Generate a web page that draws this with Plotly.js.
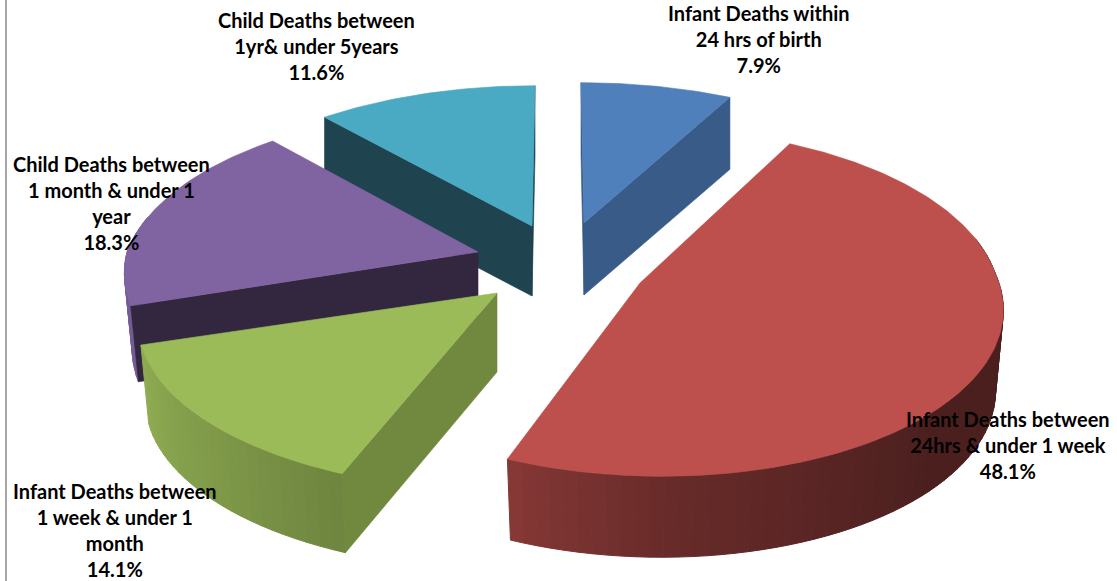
<!DOCTYPE html>
<html>
<head>
<meta charset="utf-8">
<script src="https://cdn.plot.ly/plotly-3.0.1.min.js"></script>
<style>html,body{margin:0;padding:0;background:#fff}#chart{width:1117px;height:581px}</style>
</head>
<body>
<div id="chart"></div>
<script>
// Share of child deaths by age at death, drawn as an exploded 3D pie.
const labelLines = [
  ['Infant Deaths within', '24 hrs of birth'],
  ['Infant Deaths between', '24hrs & under 1 week'],
  ['Infant Deaths between', '1 week & under 1', 'month'],
  ['Child Deaths between', '1 month & under 1', 'year'],
  ['Child Deaths between', '1yr& under 5years']
];
const shares = [7.9, 48.1, 14.1, 18.3, 11.6];

// Slice colours
const topColors = ['#4f80bb', '#bd4f4c', '#9bbb59', '#8064a2', '#4aa9c3'];
const faceColors = ['#385b87', '#4a1e1e', '#71893f', '#33263f', '#1f444f'];

// Explosion of each slice away from the common centre, and wall height
const centre = [556, 256];
const explodeX = [25, 90, -59, -75, -21];
const explodeY = [-33, 16, 37, -4, -30];
const wallDepth = [72, 81, 79, 76, 70];

// Per-slice adjustments of the projected disc
const widthScale = [1.02, 0.985, 1, 1, 1.01];
const depthScale = [1, 1.02, 0.985, 1.02, 1];
const frontShear = [0, 16, 1, 20, 0];
const tipShiftX = [3, -6, 0, -3, -3];
const tipShiftY = [0, 11, 0, 0, 0];

// Label placement
const labelX = [759, 1008, 115, 111, 316];
const labelY = [39, 445, 530, 203, 46];

// Tilted-disc projection; the lower edge of a front wall is slightly narrower
const radiusX = 354, radiusY = 165, perspective = 0.176, frontNarrowing = 0.022;

// Wall brightness as a function of the angle round the pie
const shadeAngles = [0, 135, 180, 201.6, 225, 252, 360];
const shadeFactors = [0.39, 0.39, 0.55, 0.71, 0.82, 0.92, 0.95];

function rimPoint(deg, i) {
  const r = deg * Math.PI / 180, u = Math.sin(r), v = -Math.cos(r);
  const s = 1 / (1 - perspective * v);
  const x = radiusX * u * s * widthScale[i] + frontShear[i] * Math.max(v, 0);
  const front = Math.min(1, Math.max(0, (v + 0.3) / 0.4));
  return {x: x, lowerX: x * (1 - frontNarrowing * front), y: radiusY * v * s * depthScale[i], v: v};
}
function shadeAt(deg) {
  for (let i = 1; i < shadeAngles.length; i++) {
    if (deg <= shadeAngles[i]) {
      const t = (deg - shadeAngles[i - 1]) / (shadeAngles[i] - shadeAngles[i - 1]);
      return shadeFactors[i - 1] + t * (shadeFactors[i] - shadeFactors[i - 1]);
    }
  }
  return shadeFactors[shadeFactors.length - 1];
}
function scaled(hex, f) {
  const n = parseInt(hex.slice(1), 16);
  return 'rgb(' + [(n >> 16) & 255, (n >> 8) & 255, n & 255].map(c => Math.round(c * f)).join(',') + ')';
}
function poly(xs, ys, color, width) {
  return {
    type: 'scatter', mode: 'lines', x: xs, y: ys, fill: 'toself', fillcolor: color,
    line: {color: color, width: width}, hoverinfo: 'skip', showlegend: false
  };
}

// Cumulative angles come straight from the shares
const total = shares.reduce((a, b) => a + b, 0);
const startAngle = [], endAngle = [];
shares.reduce((acc, v, i) => {
  startAngle[i] = acc / total * 360;
  endAngle[i] = (acc + v) / total * 360;
  return acc + v;
}, 0);

function sliceTraces(i) {
  const out = [];
  const cx = centre[0] + explodeX[i], cy = centre[1] + explodeY[i];
  const ax = cx + tipShiftX[i], ay = cy + tipShiftY[i];
  const d = wallDepth[i], a0 = startAngle[i], a1 = endAngle[i];
  const mid = rimPoint((a0 + a1) / 2, i);
  const mx = cx + mid.x - ax, my = cy + mid.y - ay;

  // Curved outer wall, in narrow shaded bands
  const base = topColors[i], step = 2;
  const n = Math.max(1, Math.round((a1 - a0) / step));
  for (let k = 0; k < n; k++) {
    const b0 = a0 + (a1 - a0) * k / n, b1 = a0 + (a1 - a0) * (k + 1) / n;
    const p0 = rimPoint(b0, i), p1 = rimPoint(b1, i);
    if (Math.max(p0.v, p1.v) < -0.2) continue;
    out.push(poly(
      [cx + p0.x, cx + p1.x, cx + p1.lowerX, cx + p0.lowerX, cx + p0.x],
      [cy + p0.y, cy + p1.y, cy + p1.y + d, cy + p0.y + d, cy + p0.y],
      scaled(base, shadeAt((b0 + b1) / 2)), 1
    ));
  }

  // Straight cut walls, only those that face the viewer
  [a0, a1].forEach(a => {
    const p = rimPoint(a, i);
    const ex = cx + p.x - ax, ey = cy + p.y - ay;
    if (ex * (ex * my - ey * mx) < 0) {
      out.push(poly(
        [ax, cx + p.x, cx + p.lowerX, ax, ax],
        [ay, cy + p.y, cy + p.y + d, ay + d, ay],
        faceColors[i], 0.6
      ));
    }
  });

  // Top face
  const xs = [ax], ys = [ay];
  const m = Math.max(2, Math.round(a1 - a0));
  for (let k = 0; k <= m; k++) {
    const p = rimPoint(a0 + (a1 - a0) * k / m, i);
    xs.push(cx + p.x); ys.push(cy + p.y);
  }
  xs.push(ax); ys.push(ay);
  out.push(poly(xs, ys, topColors[i], 0.6));
  return out;
}

// Paint from the back of the pie to the front
const paintOrder = [4, 3, 2, 0, 1];
const traces = [];
paintOrder.forEach(i => traces.push(...sliceTraces(i)));

const annotations = shares.map((v, i) => ({
  x: labelX[i], y: labelY[i], xref: 'x', yref: 'y', showarrow: false,
  xanchor: 'center', yanchor: 'middle', align: 'center',
  text: labelLines[i].concat(v.toFixed(1) + '%').join('<br>'),
  font: {family: 'Lato, "Open Sans", sans-serif', size: 20, color: '#000', weight: 700}
}));

const layout = {
  width: 1117, height: 581,
  margin: {l: 0, r: 0, t: 0, b: 0},
  paper_bgcolor: '#fff', plot_bgcolor: '#fff',
  showlegend: false,
  xaxis: {range: [0, 1117], visible: false, fixedrange: true},
  yaxis: {range: [581, 0], visible: false, fixedrange: true},
  shapes: [{type: 'line', xref: 'x', yref: 'y', x0: 6, x1: 6, y0: 0, y1: 581, line: {color: '#a6a6a6', width: 2}}],
  annotations: annotations
};

Plotly.newPlot('chart', traces, layout, {displayModeBar: false, staticPlot: true});
</script>
</body>
</html>
